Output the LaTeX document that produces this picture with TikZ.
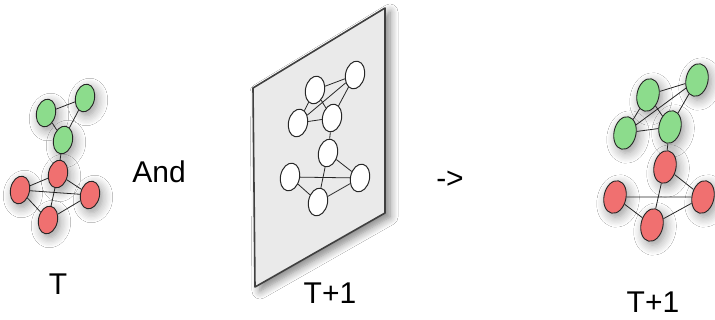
\documentclass[tikz,border=0pt]{standalone}
\usepackage{fontspec}
\setmainfont{Liberation Sans}
\usetikzlibrary{shapes.geometric,shadows.blur}
\definecolor{ngreen}{RGB}{140,220,140}
\definecolor{nred}{RGB}{240,112,112}
\definecolor{panelgray}{RGB}{234,234,234}
\tikzset{
  gnode/.style={ellipse,draw=black!85,line width=0.9pt,minimum width=19pt,minimum height=28pt,inner sep=0pt,rotate=-12},
  shnode/.style={gnode,blur shadow={shadow blur steps=8,shadow xshift=3pt,shadow yshift=-4pt,shadow blur radius=10pt,shadow opacity=40}},
  greennode/.style={shnode,fill=ngreen},
  rednode/.style={shnode,fill=nred},
  bignode/.style={minimum width=22pt,minimum height=33pt},
  whitenode/.style={gnode,fill=white,line width=1pt},
  edge/.style={draw=black!85,line width=0.8pt},
  lbl/.style={font=\fontsize{30}{36}\selectfont,inner sep=0pt},
}
\begin{document}
\begin{tikzpicture}[x=1pt,y=-1pt]
\useasboundingbox[fill=white] (0,0) rectangle (715,320);
% ---- left graph T
\node[greennode] (lg1) at (46,113) {};
\node[greennode] (lg2) at (85,98) {};
\node[greennode] (lg3) at (63,140) {};
\node[rednode] (lr1) at (58,174) {};
\node[rednode] (lr2) at (20,190) {};
\node[rednode] (lr3) at (90,195) {};
\node[rednode] (lr4) at (48,220) {};
\draw[edge] (lg1)--(lg2) (lg1)--(lg3) (lg2)--(lg3) (lg3)--(lr1)
  (lr1)--(lr2) (lr1)--(lr3) (lr1)--(lr4) (lr2)--(lr3) (lr2)--(lr4) (lr3)--(lr4);
\node[lbl] (lt) at (58,284) {T};
\node[lbl] (and) at (159,172) {And};
% ---- panel
\coordinate (p1) at (253,88);
\coordinate (p2) at (385,8);
\coordinate (p3) at (385,213);
\coordinate (p4) at (255,287);
\path[fill=panelgray,draw=black!75,line width=1.6pt,line join=round,
  blur shadow={shadow blur steps=8,shadow xshift=5pt,shadow yshift=-4pt,shadow blur radius=8pt,shadow opacity=50}]
  (p1)--(p2)--(p3)--(p4)--cycle;
\node[whitenode] (pa) at (315,90) {};
\node[whitenode] (pb) at (355,75) {};
\node[whitenode] (pc) at (298,123) {};
\node[whitenode] (pd) at (332,118) {};
\node[whitenode] (pe) at (328,153) {};
\node[whitenode] (pf) at (290,177) {};
\node[whitenode] (pg) at (360,178) {};
\node[whitenode] (ph) at (318,202) {};
\draw[edge] (pa)--(pb) (pa)--(pc) (pa)--(pd) (pb)--(pc) (pb)--(pd) (pc)--(pd) (pd)--(pe)
  (pe)--(pg) (pe)--(ph) (pf)--(pg) (pf)--(ph) (pg)--(ph);
\node[lbl] (pt) at (330,293) {T+1};
\node[lbl] (arr) at (450,180) {->};
% ---- right graph
\node[greennode,bignode] (rg1) at (648,95) {};
\node[greennode,bignode] (rg2) at (697,80) {};
\node[greennode,bignode] (rg3) at (625,133) {};
\node[greennode,bignode] (rg4) at (670,127) {};
\node[rednode,bignode] (rr1) at (665,167) {};
\node[rednode,bignode] (rr2) at (615,197) {};
\node[rednode,bignode] (rr3) at (703,197) {};
\node[rednode,bignode] (rr4) at (652,225) {};
\draw[edge] (rg1)--(rg2) (rg1)--(rg3) (rg1)--(rg4) (rg2)--(rg3) (rg2)--(rg4) (rg3)--(rg4) (rg4)--(rr1)
  (rr1)--(rr3) (rr1)--(rr4) (rr2)--(rr3) (rr2)--(rr4) (rr3)--(rr4);
\node[lbl] (rt) at (653,302) {T+1};
\end{tikzpicture}
\end{document}
